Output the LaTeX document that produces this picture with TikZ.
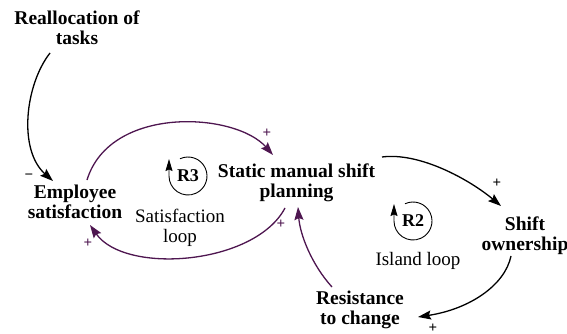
\documentclass[tikz,border=0pt]{standalone}
\usepackage{fontspec}
\setmainfont{LiberationSerif}[Extension=.ttf, UprightFont=*-Regular, BoldFont=*-Bold, ItalicFont=*-Italic, BoldItalicFont=*-BoldItalic]
\usetikzlibrary{arrows.meta}
\definecolor{loopviolet}{RGB}{78,22,80}
\begin{document}
\begin{tikzpicture}[x=1pt,y=1pt,
  var/.style={font=\fontsize{19.5}{20}\selectfont\bfseries, align=center, inner sep=0pt},
  caption/.style={font=\fontsize{19}{19.5}\selectfont, align=center, inner sep=0pt},
  link/.style={line width=1.3pt, -{Stealth[length=13pt,width=9pt,inset=2pt]}},
  blk/.style={link, black},
  vio/.style={link, loopviolet},
  pol/.style={font=\fontsize{15}{15}\selectfont\bfseries, inner sep=0pt},
  loopmark/.style={line width=0.9pt, -{Stealth[length=12pt,width=7pt,inset=1.5pt]}},
  looplabel/.style={font=\fontsize{18}{18}\selectfont\bfseries, inner sep=0pt}]
\useasboundingbox (0,0) rectangle (567,-334);

% variables
\node[var] (real) at (77,-28) {Reallocation of\\tasks};
\node[var] (emp) at (75,-202) {Employee\\satisfaction};
\node[var] (stat) at (296.5,-183) {Static manual shift\\planning};
\node[var] (own) at (525,-235.5) {Shift\\ownership};
\node[var] (res) at (360,-310) {Resistance\\to change};

% loop captions
\node[caption] (satl) at (180,-228) {Satisfaction\\loop};
\node[caption] (isl) at (418,-260.5) {Island loop};

% loop markers
\node[looplabel] (r3) at (188,-176) {R3};
\draw[loopmark] ([shift={(115:19)}]r3.center) arc[start angle=115, end angle=-180, radius=19] -- ++(0,17);
\node[looplabel] (r2) at (413,-221) {R2};
\draw[loopmark] ([shift={(115:19)}]r2.center) arc[start angle=115, end angle=-180, radius=19] -- ++(0,17);

% causal links
\draw[blk] ([shift={(-27,-25)}]real.center) .. controls +(-25,-32) and +(-35,31) .. ([shift={(-22,21)}]emp.center)
  node[pol, shift={(-24,4)}] {−};
\draw[vio] ([shift={(12,22)}]emp.center) .. controls +(23,75) and +(-38,43) .. ([shift={(-23.5,28)}]stat.center)
  node[pol, shift={(-6,22)}] {+};
\draw[vio] ([shift={(-11.5,-25)}]stat.center) .. controls +(-30,-57) and +(35,-50) .. ([shift={(15,-23)}]emp.center)
  node[pol, shift={(-2,-18)}] {+};
\draw[blk] ([shift={(85.5,26)}]stat.center) .. controls +(38,5) and +(-31,26) .. ([shift={(-24,29.5)}]own.center)
  node[pol, shift={(-4,23)}] {+};
\draw[blk] ([shift={(-14,-20.5)}]own.center) .. controls +(-6,-29) and +(52,8) .. ([shift={(58,-7)}]res.center)
  node[pol, shift={(15,-11)}] {+};
\draw[vio] ([shift={(-28,23)}]res.center) .. controls +(-20,22) and +(2,-28) .. ([shift={(1.5,-24)}]stat.center)
  node[pol, shift={(-17,-17)}] {+};
\end{tikzpicture}
\end{document}
